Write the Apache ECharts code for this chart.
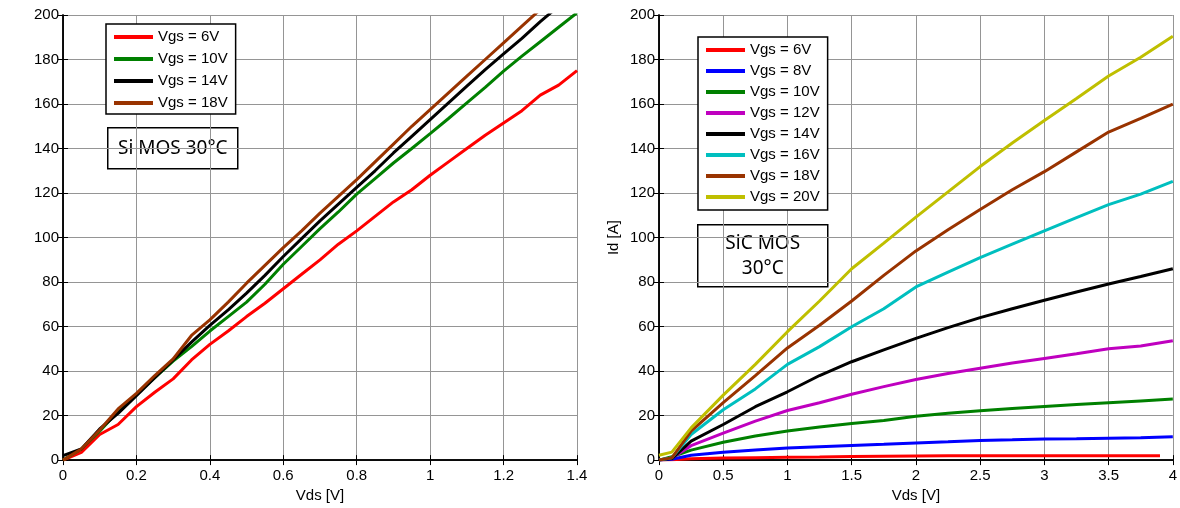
<!DOCTYPE html>
<html><head><meta charset="utf-8">
<script src="https://cdn.jsdelivr.net/npm/echarts@6/dist/echarts.min.js"></script>
<style>html,body{margin:0;padding:0;background:#fff}#c{width:1180px;height:508px}</style>
</head><body><div id="c"></div>
<script>
// ---- Left plot: Si MOS 30°C ----
const siVds = [0,0.05,0.1,0.15,0.2,0.25,0.3,0.35,0.4,0.45,0.5,0.55,0.6,0.65,0.7,0.75,0.8,0.85,0.9,0.95,1.0,1.05,1.1,1.15,1.2,1.25,1.3,1.35,1.4];
const siVgs6  = [0,3.5,11.5,16,24,30.5,36.5,45,52,58,64.5,70.5,77,83.5,90,97,103,109.5,116,121.5,128,134,140,146,151.5,157,164,168.5,175];
const siVgs10 = [0,5,13,22,29.5,37,44.5,51,58,64.5,71,79,88,96,104,111.5,119.5,126.5,133.5,140,146.7,153.5,160.5,167.5,174.8,181.5,188,194.5,201];
const siVgs14 = [2,5,14,21,29,37,45,53,60.5,67.5,75,83,91.5,99.5,107.5,115,122.5,130,138,145.5,153,160.5,168,175.5,182.5,189.5,197,204];
const siVgs18 = [0,5,13.5,23,30,38,45.5,56,63,71,79.5,87.5,95.5,103,111,118.5,126,134,142,150,157.5,165,172.5,180,187.5,195,202.5];

// ---- Right plot: SiC MOS 30°C ----
const sicVds    = [0,0.1,0.25,0.5,0.75,1,1.25,1.5,1.75,2,2.25,2.5,2.75,3,3.25,3.5,3.75,4];
const sicVdsRed = [0,0.1,0.25,0.5,0.75,1,1.25,1.5,1.75,2,2.25,2.5,2.75,3,3.25,3.5,3.75,3.9];
const sicVgs6  = [0,0.2,0.6,0.9,1.1,1.3,1.4,1.6,1.7,1.8,1.9,1.9,1.9,1.9,1.9,1.9,1.9,1.9];
const sicVgs8  = [0,0.4,2.2,3.5,4.5,5.4,6.0,6.6,7.1,7.7,8.2,8.8,9.1,9.5,9.6,9.8,10.0,10.5];
const sicVgs10 = [0,1.5,4.5,8,10.8,13.1,14.9,16.4,17.8,19.7,21.0,22.2,23.2,24.1,25.0,25.8,26.6,27.4];
const sicVgs12 = [0,1,6.5,12.1,17.5,22.3,25.8,29.6,33.0,36.2,38.9,41.3,43.6,45.7,47.8,50,51.3,53.6];
const sicVgs14 = [0,0.7,8.5,16,24,30.7,38,44.2,49.5,54.7,59.5,64,68,71.8,75.5,79.1,82.5,86];
const sicVgs16 = [0,1,11.5,22.6,32,43,51,59.9,68,77.8,84.5,91,97,103,109,114.8,119.5,125.2];
const sicVgs18 = [0,1,13,25.8,38,50.4,60.6,71.5,83,94,103.5,112.6,121.5,129.6,138.5,147.4,153.5,160];
const sicVgs20 = [2.2,3.6,14.5,29.2,43,57.7,71.5,86,97.5,109.2,120.5,131.9,142.5,152.6,162.5,172.6,181,190.4];

const siNames  = ['Vgs = 6V','Vgs = 10V','Vgs = 14V','Vgs = 18V'];
const sicNames = ['Vgs = 6V','Vgs = 8V','Vgs = 10V','Vgs = 12V','Vgs = 14V','Vgs = 16V','Vgs = 18V','Vgs = 20V'];

const C = {'Vgs = 6V':'#ff0000','Vgs = 8V':'#0000ff','Vgs = 10V':'#008000','Vgs = 12V':'#bf00bf',
  'Vgs = 14V':'#000000','Vgs = 16V':'#00bfbf','Vgs = 18V':'#993300','Vgs = 20V':'#bfbf00'};

const FONT = "'Liberation Sans', Arial, sans-serif";
const zip = (xs, ys) => ys.map((y, i) => [xs[i], y]);

function mkSeries(name, xs, ys, xi, yi) {
  return {type:'line', name, data: zip(xs, ys), xAxisIndex: xi, yAxisIndex: yi,
    symbol:'none', showSymbol:false, clip:true, animation:false,
    lineStyle:{color:C[name], width:3}, itemStyle:{color:C[name]}};
}

const gridLine = {show:true, lineStyle:{color:'#959595', width:1}};
const axLine = {show:true, lineStyle:{color:'#000', width:1.5}};
const tick = {show:true, inside:true, length:5, lineStyle:{color:'#000', width:1}};
const lbl = {color:'#000', fontSize:15, fontFamily:FONT};

function xAx(gi, max, interval, bottom) {
  return bottom ? {type:'value', gridIndex:gi, min:0, max, interval, position:'bottom',
      axisLine:axLine, axisTick:tick, splitLine:gridLine, axisLabel:Object.assign({margin:8}, lbl),
      name:'Vds [V]', nameLocation:'middle', nameGap:24, nameTextStyle:lbl}
    : {type:'value', gridIndex:gi, min:0, max, interval, position:'top',
      axisLine:axLine, axisTick:tick, splitLine:{show:false}, axisLabel:{show:false}};
}
function yAx(gi, left, name) {
  return left ? {type:'value', gridIndex:gi, min:0, max:200, interval:20, position:'left',
      axisLine:axLine, axisTick:tick, splitLine:gridLine, axisLabel:Object.assign({margin:4}, lbl),
      name:name, nameLocation:'middle', nameGap:38, nameTextStyle:lbl}
    : {type:'value', gridIndex:gi, min:0, max:200, interval:20, position:'right',
      axisLine:axLine, axisTick:tick, splitLine:{show:false}, axisLabel:{show:false}};
}

const series = [
  mkSeries(siNames[0], siVds, siVgs6, 0, 0),
  mkSeries(siNames[1], siVds, siVgs10, 0, 0),
  mkSeries(siNames[2], siVds, siVgs14, 0, 0),
  mkSeries(siNames[3], siVds, siVgs18, 0, 0),
  mkSeries(sicNames[0], sicVdsRed, sicVgs6, 2, 2),
  mkSeries(sicNames[1], sicVds, sicVgs8, 2, 2),
  mkSeries(sicNames[2], sicVds, sicVgs10, 2, 2),
  mkSeries(sicNames[3], sicVds, sicVgs12, 2, 2),
  mkSeries(sicNames[4], sicVds, sicVgs14, 2, 2),
  mkSeries(sicNames[5], sicVds, sicVgs16, 2, 2),
  mkSeries(sicNames[6], sicVds, sicVgs18, 2, 2),
  mkSeries(sicNames[7], sicVds, sicVgs20, 2, 2)
];

const legBase = {orient:'vertical', icon:'rect', itemWidth:39, itemHeight:4,
  borderColor:'#000', borderWidth:1.5, backgroundColor:'#fff', selectedMode:false,
  textStyle:{fontSize:15, fontFamily:FONT, color:'#000', lineHeight:16}};

const option = {
  backgroundColor:'#fff',
  animation:false,
  grid:[{left:63, top:15, width:514, height:450}, {left:659, top:15, width:514, height:450}],
  xAxis:[xAx(0,1.4,0.2,true), xAx(0,1.4,0.2,false), xAx(1,4,0.5,true), xAx(1,4,0.5,false)],
  yAxis:[yAx(0,true,''), yAx(0,false), yAx(1,true,'Id [A]'), yAx(1,false)],
  legend:[
    Object.assign({left:106, top:24, itemGap:6, padding:[5,8,3,8], data:siNames}, legBase),
    Object.assign({left:698, top:37, itemGap:5, padding:[5,8,5,8], data:sicNames}, legBase)
  ],
  graphic:[
    {type:'group', left:107, top:127, z:100, children:[
      {type:'rect', shape:{x:0,y:0,width:130,height:41}, style:{fill:'#fff', stroke:'#000', lineWidth:1.5}},
      {type:'text', x:65, y:20.5, style:{text:'Si MOS 30°C', font:"19px 'Noto Sans', 'Open Sans', sans-serif", fill:'#000', align:'center', verticalAlign:'middle'}}
    ]},
    {type:'group', left:697, top:224, z:100, children:[
      {type:'rect', shape:{x:0,y:0,width:130,height:62}, style:{fill:'#fff', stroke:'#000', lineWidth:1.5}},
      {type:'text', x:65, y:31, style:{text:'SiC MOS\n30°C', font:"19px 'Noto Sans', 'Open Sans', sans-serif", lineHeight:25, fill:'#000', align:'center', verticalAlign:'middle'}}
    ]}
  ],
  series
};
const chart = echarts.init(document.getElementById('c'), null, {renderer:'canvas'});
chart.setOption(option);
</script></body></html>
